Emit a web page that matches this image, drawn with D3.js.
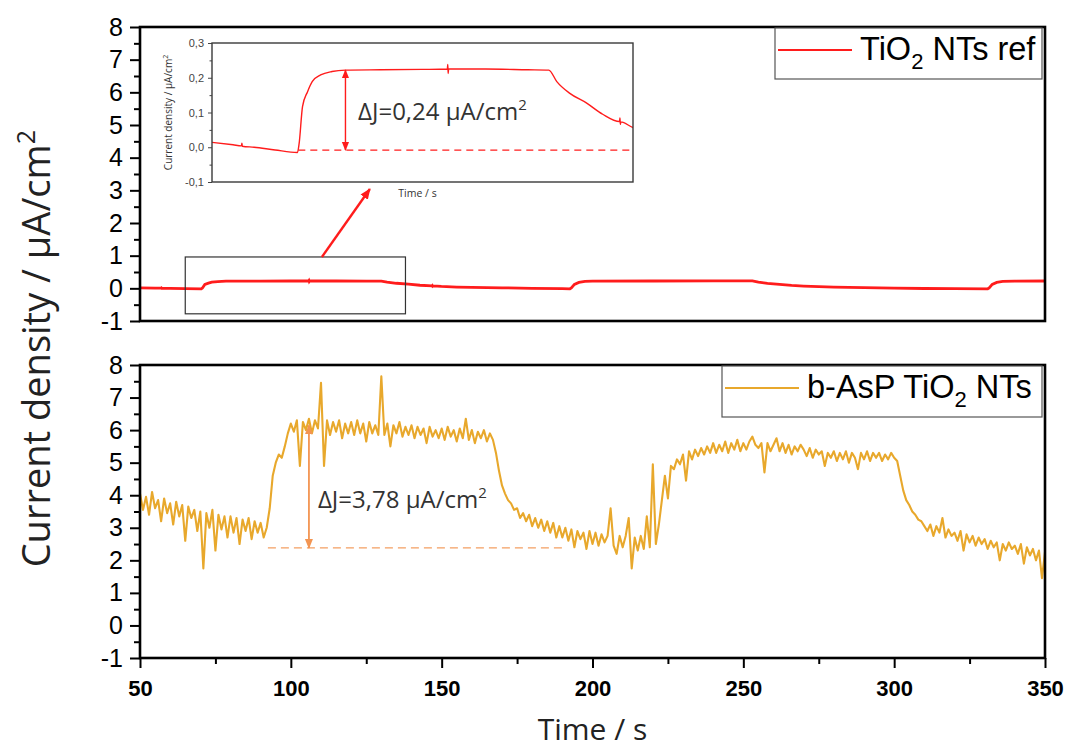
<!DOCTYPE html>
<html><head><meta charset="utf-8">
<script src="https://cdn.jsdelivr.net/npm/d3@7"></script>
<style>body{margin:0;background:#fff}</style>
</head><body>
<svg id="c" width="1070" height="749"></svg>
<script>
// ---------- data ----------
const xTicks = [50, 100, 150, 200, 250, 300, 350];
const xMinorTicks = [75, 125, 175, 225, 275, 325];
const yTicks = [-1, 0, 1, 2, 3, 4, 5, 6, 7, 8];
const yMinorTicks = [-0.5, 0.5, 1.5, 2.5, 3.5, 4.5, 5.5, 6.5, 7.5];
const insetYTicks = [-0.1, 0, 0.1, 0.2, 0.3];
const insetYMinor = [-0.05, 0.05, 0.15, 0.25];

// TiO2 NTs ref : [time s, current density µA/cm²]
const refSeries = [
  [50,0.014],[55,0.007],[57,0.004],[57.1,0.012],[57.2,0.003],[60,0.0],[65,-0.008],[70.3,-0.015],
  [70.7,0.011],[71.5,0.117],[72.7,0.16],[73.8,0.189],[75.8,0.208],[78.5,0.218],[81.7,0.222],
  [90,0.223],[100,0.224],[105.9,0.225],[106,0.238],[106.1,0.212],[106.2,0.225],[115,0.225],
  [125,0.223],[130,0.222],[131.9,0.189],[135,0.155],[139,0.127],[142.8,0.095],[146.8,0.074],
  [146.9,0.084],[147,0.066],[147.1,0.073],[149.9,0.057],[155,0.04],[160,0.03],[170,0.015],
  [180,0.0],[190,-0.012],[192.5,-0.015],[193,0.01],[194,0.12],[195.5,0.18],[197.5,0.21],
  [200,0.22],[220,0.225],[240,0.228],[253,0.226],[255,0.19],[258,0.15],[262,0.12],[266,0.09],
  [270,0.07],[280,0.04],[290,0.02],[300,0.005],[310,-0.005],[320,-0.01],[331,-0.015],
  [331.5,0.01],[332.5,0.12],[334,0.18],[336,0.21],[340,0.22],[350,0.225]
];

// b-AsP TiO2 NTs : one reading per second from t = 50 s to 350 s
const aspStart = 50, aspStep = 1;
const aspValues = [
  4.05,3.55,3.95,3.4,4.1,3.6,3.85,3.2,3.9,3.45,
  3.75,3.1,3.8,3.35,3.7,2.6,3.65,3.3,3.55,2.9,
  3.5,1.75,3.45,3.0,3.55,2.3,3.4,2.95,3.35,2.7,
  3.35,2.85,3.3,2.5,3.25,2.9,3.3,2.65,3.2,2.85,
  3.15,2.7,3.0,3.6,4.6,5.0,5.25,5.15,5.5,5.9,
  6.2,5.95,6.3,4.9,6.25,6.0,6.35,5.9,6.3,6.05,
  7.45,4.9,6.3,5.85,6.25,5.95,6.3,5.75,6.2,5.9,
  6.25,5.85,6.3,5.9,6.2,5.65,6.25,5.9,6.15,5.85,
  7.65,5.85,6.2,5.5,6.15,5.9,6.25,5.8,6.1,5.85,
  6.15,5.75,6.1,5.85,6.05,5.6,6.1,5.8,6.0,5.75,
  6.05,5.7,6.1,5.8,6.0,5.65,6.05,5.75,6.35,5.7,
  6.0,5.6,5.95,5.75,6.0,5.65,5.9,5.7,5.3,4.75,
  4.3,4.05,3.85,3.75,3.55,3.6,3.3,3.45,3.2,3.4,
  3.05,3.3,3.0,3.25,2.9,3.2,2.85,3.15,2.7,3.05,
  2.7,3.0,2.6,2.95,2.4,2.9,2.65,2.85,2.35,2.9,
  2.5,2.85,2.45,2.8,2.55,2.75,3.6,2.45,2.2,2.75,
  2.4,2.75,3.3,1.75,2.7,2.3,2.75,2.35,3.35,2.4,
  4.95,2.5,3.1,3.85,4.6,3.9,4.9,4.8,5.1,4.95,
  5.25,4.45,5.35,5.1,5.4,5.2,5.45,5.25,5.5,5.3,
  5.6,5.3,5.55,5.35,5.65,5.3,5.6,5.4,5.7,5.35,
  5.6,5.4,5.65,5.8,5.55,5.45,5.6,4.7,5.6,5.35,
  5.55,5.75,5.35,5.6,5.3,5.55,5.25,5.5,5.35,5.55,
  5.4,5.2,5.45,5.15,5.4,5.25,5.35,4.9,5.3,5.15,
  5.35,5.05,5.3,5.1,5.35,5.0,5.3,5.15,4.8,5.3,
  5.1,5.35,5.05,5.3,5.15,5.3,5.05,5.25,5.1,5.3,
  5.15,5.05,4.6,4.15,3.85,3.7,3.5,3.4,3.25,3.2,
  3.05,2.9,3.1,2.75,3.05,2.85,3.3,2.7,2.95,2.75,
  2.85,2.6,2.9,2.3,2.8,2.55,2.75,2.45,2.7,2.5,
  2.65,2.35,2.6,2.4,2.55,2.0,2.5,2.3,2.55,2.35,
  2.45,2.2,2.5,1.9,2.4,2.15,2.35,2.0,2.3,1.45,2.25
];

// annotations (data units)
const refDelta = {label: "ΔJ=0,24 µA/cm", t: 81.7, top: 0.222, base: -0.008, baseFrom: 70.5, baseTo: 150, textT: 84.7, textV: 0.078};
const aspDelta = {label: "ΔJ=3,78 µA/cm", t: 106, top: 6.15, base: 2.38, baseFrom: 92.4, baseTo: 191.5, textT: 109, textV: 3.61};
const zoomBox = {t0: 65, t1: 138, v0: -0.78, v1: 0.96};
const zoomArrow = {t0: 110.3, v0: 0.96, t1: 126.2, v1: 3.04};
const insetRange = {t0: 50, t1: 150, v0: -0.1, v1: 0.3};

// ---------- layout ----------
const svg = d3.select("#c");
const L = 140, R = 1045;
const topP = {top: 27, bottom: 321};
const botP = {top: 365, bottom: 658};
const inset = {left: 212, right: 633, top: 43, bottom: 182};

const RED = "#ff1c1c", GOLD = "#e8a82c", ORANGE = "#f39552";
const TICKFONT = "'Liberation Sans', Arial, sans-serif";
const LABFONT = "'Open Sans', 'Noto Sans', sans-serif";

const x = d3.scaleLinear([50, 350], [L, R]);
const yTop = d3.scaleLinear([-1, 8], [topP.bottom, topP.top]);
const yBot = d3.scaleLinear([-1, 8], [botP.bottom, botP.top]);
const xi = d3.scaleLinear([insetRange.t0, insetRange.t1], [inset.left, inset.right]);
const yi = d3.scaleLinear([insetRange.v0, insetRange.v1], [inset.bottom, inset.top]);

const defs = svg.append("defs");
function marker(id, color, size) {
  defs.append("marker").attr("id", id).attr("viewBox", "0 0 10 10")
    .attr("refX", 9).attr("refY", 5).attr("markerUnits", "userSpaceOnUse")
    .attr("markerWidth", size).attr("markerHeight", size).attr("orient", "auto-start-reverse")
    .append("path").attr("d", "M0,1 L10,5 L0,9 Z").attr("fill", color);
}
marker("mRed", RED, 11);
marker("mRedS", RED, 9);
marker("mOr", ORANGE, 10);
defs.append("clipPath").attr("id", "clipTop").append("rect")
  .attr("x", L).attr("y", topP.top).attr("width", R - L).attr("height", topP.bottom - topP.top);
defs.append("clipPath").attr("id", "clipBot").append("rect")
  .attr("x", L).attr("y", botP.top).attr("width", R - L).attr("height", botP.bottom - botP.top);
defs.append("clipPath").attr("id", "clipIn").append("rect")
  .attr("x", inset.left).attr("y", inset.top).attr("width", inset.right - inset.left).attr("height", inset.bottom - inset.top);

// ---------- y axes ----------
function yAxes(scale) {
  const g = svg.append("g").attr("transform", `translate(${L},0)`);
  g.call(d3.axisLeft(scale).tickValues(yTicks).tickSize(10).tickPadding(7).tickFormat(d => String(d)));
  g.selectAll("text").attr("font-family", TICKFONT).attr("font-size", 25).attr("fill", "#000");
  g.selectAll("line").attr("stroke-width", 2);
  g.select(".domain").remove();
  const m = svg.append("g").attr("transform", `translate(${L},0)`);
  m.call(d3.axisLeft(scale).tickValues(yMinorTicks).tickSize(6).tickFormat(""));
  m.selectAll("line").attr("stroke-width", 2);
  m.select(".domain").remove();
}
yAxes(yTop);
yAxes(yBot);

// x axis of the bottom panel
const gx = svg.append("g").attr("transform", `translate(0,${botP.bottom})`);
gx.call(d3.axisBottom(x).tickValues(xTicks).tickSize(10).tickPadding(12).tickFormat(d => String(d)));
gx.selectAll("text").attr("font-family", TICKFONT).attr("font-size", 22).attr("font-weight", "bold").attr("fill", "#000");
gx.selectAll("line").attr("stroke-width", 2);
gx.select(".domain").remove();
const gxm = svg.append("g").attr("transform", `translate(0,${botP.bottom})`);
gxm.call(d3.axisBottom(x).tickValues(xMinorTicks).tickSize(6).tickFormat(""));
gxm.selectAll("line").attr("stroke-width", 2);
gxm.select(".domain").remove();

// ---------- series ----------
const refLine = d3.line().x(d => x(d[0])).y(d => yTop(d[1]));
svg.append("path").datum(refSeries).attr("clip-path", "url(#clipTop)")
  .attr("d", refLine).attr("fill", "none").attr("stroke", RED).attr("stroke-width", 2.8);

const aspSeries = aspValues.map((v, i) => [aspStart + i * aspStep, v]);
const aspLine = d3.line().x(d => x(d[0])).y(d => yBot(d[1]));
svg.append("path").datum(aspSeries).attr("clip-path", "url(#clipBot)")
  .attr("d", aspLine).attr("fill", "none").attr("stroke", GOLD).attr("stroke-width", 2.1)
  .attr("stroke-linejoin", "round");

// panel frames
[topP, botP].forEach(p => {
  svg.append("rect").attr("x", L).attr("y", p.top).attr("width", R - L).attr("height", p.bottom - p.top)
    .attr("fill", "none").attr("stroke", "#000").attr("stroke-width", 2.6);
});

// ---------- zoom box + arrow ----------
svg.append("rect").attr("x", x(zoomBox.t0)).attr("y", yTop(zoomBox.v1))
  .attr("width", x(zoomBox.t1) - x(zoomBox.t0)).attr("height", yTop(zoomBox.v0) - yTop(zoomBox.v1))
  .attr("fill", "none").attr("stroke", "#333").attr("stroke-width", 1.2);
svg.append("line").attr("x1", x(zoomArrow.t0)).attr("y1", yTop(zoomArrow.v0))
  .attr("x2", x(zoomArrow.t1)).attr("y2", yTop(zoomArrow.v1))
  .attr("stroke", RED).attr("stroke-width", 2.4).attr("marker-end", "url(#mRed)");

// ---------- inset ----------
svg.append("rect").attr("x", inset.left).attr("y", inset.top)
  .attr("width", inset.right - inset.left).attr("height", inset.bottom - inset.top)
  .attr("fill", "#fff").attr("stroke", "none");
const insetLine = d3.line().curve(d3.curveMonotoneX).x(d => xi(d[0])).y(d => yi(d[1]));
svg.append("path").datum(refSeries).attr("clip-path", "url(#clipIn)")
  .attr("d", insetLine).attr("fill", "none").attr("stroke", RED).attr("stroke-width", 1.4);
svg.append("line").attr("x1", xi(refDelta.baseFrom)).attr("x2", xi(refDelta.baseTo))
  .attr("y1", yi(refDelta.base)).attr("y2", yi(refDelta.base))
  .attr("stroke", RED).attr("stroke-width", 1.3).attr("stroke-dasharray", "7,5");
svg.append("line").attr("x1", xi(refDelta.t)).attr("x2", xi(refDelta.t))
  .attr("y1", yi(refDelta.top)).attr("y2", yi(refDelta.base))
  .attr("stroke", RED).attr("stroke-width", 1.4)
  .attr("marker-start", "url(#mRedS)").attr("marker-end", "url(#mRedS)");
const dt1 = svg.append("text").attr("x", xi(refDelta.textT)).attr("y", yi(refDelta.textV))
  .attr("font-family", LABFONT).attr("font-size", 24).attr("fill", "#333").text(refDelta.label);
dt1.append("tspan").attr("dy", -10).attr("font-size", 15).text("2");

const gi = svg.append("g").attr("transform", `translate(${inset.left},0)`);
gi.call(d3.axisLeft(yi).tickValues(insetYTicks).tickSize(4).tickPadding(4)
  .tickFormat(d => d3.format(".1f")(d).replace("−", "-").replace(".", ",")));
gi.selectAll("text").attr("font-family", TICKFONT).attr("font-size", 11).attr("fill", "#444");
gi.selectAll("line").attr("stroke", "#444");
gi.select(".domain").remove();
const gim = svg.append("g").attr("transform", `translate(${inset.left},0)`);
gim.call(d3.axisLeft(yi).tickValues(insetYMinor).tickSize(2.5).tickFormat(""));
gim.selectAll("line").attr("stroke", "#444");
gim.select(".domain").remove();
svg.append("rect").attr("x", inset.left).attr("y", inset.top)
  .attr("width", inset.right - inset.left).attr("height", inset.bottom - inset.top)
  .attr("fill", "none").attr("stroke", "#3a3a3a").attr("stroke-width", 1.4);
const iyl = svg.append("text").attr("transform", `translate(${inset.left - 40},${(inset.top + inset.bottom) / 2}) rotate(-90)`)
  .attr("text-anchor", "middle").attr("font-family", LABFONT).attr("font-size", 10).attr("fill", "#333")
  .text("Current density / µA/cm");
iyl.append("tspan").attr("dy", -4).attr("font-size", 7).text("2");
svg.append("text").attr("x", (inset.left + inset.right) / 2 - 5).attr("y", inset.bottom + 15)
  .attr("text-anchor", "middle").attr("font-family", LABFONT).attr("font-size", 10.5).attr("fill", "#333")
  .text("Time / s");

// ---------- bottom annotation ----------
svg.append("line").attr("x1", x(aspDelta.baseFrom)).attr("x2", x(aspDelta.baseTo))
  .attr("y1", yBot(aspDelta.base)).attr("y2", yBot(aspDelta.base))
  .attr("stroke", ORANGE).attr("stroke-width", 1.3).attr("stroke-dasharray", "8,5").attr("opacity", 0.9);
svg.append("line").attr("x1", x(aspDelta.t)).attr("x2", x(aspDelta.t))
  .attr("y1", yBot(aspDelta.top)).attr("y2", yBot(aspDelta.base))
  .attr("stroke", ORANGE).attr("stroke-width", 1.8)
  .attr("marker-start", "url(#mOr)").attr("marker-end", "url(#mOr)");
const dt2 = svg.append("text").attr("x", x(aspDelta.textT)).attr("y", yBot(aspDelta.textV))
  .attr("font-family", LABFONT).attr("font-size", 24).attr("fill", "#333").text(aspDelta.label);
dt2.append("tspan").attr("dy", -10).attr("font-size", 15).text("2");

// ---------- legends ----------
function legend(panel, left, color, pre, post) {
  const top = panel.top + 1, bottom = panel.top + 52;
  svg.append("rect").attr("x", left).attr("y", top).attr("width", R - 3 - left).attr("height", bottom - top)
    .attr("fill", "#fff").attr("stroke", "#555").attr("stroke-width", 1.2);
  const ly = top + 22;
  svg.append("line").attr("x1", left + 3).attr("x2", left + 77).attr("y1", ly).attr("y2", ly)
    .attr("stroke", color).attr("stroke-width", 2);
  const t = svg.append("text").attr("x", left + 85).attr("y", ly + 10)
    .attr("font-family", TICKFONT).attr("font-size", 32.5).attr("fill", "#000").text(pre);
  t.append("tspan").attr("dy", 9).attr("font-size", 22).text("2");
  t.append("tspan").attr("dy", -9).text(post);
}
legend(topP, 775, RED, "TiO", " NTs ref");
legend(botP, 722, GOLD, "b-AsP TiO", " NTs");

// ---------- axis titles ----------
const yl = svg.append("text").attr("transform", `translate(50,130) rotate(-90)`)
  .attr("text-anchor", "end").attr("font-family", LABFONT).attr("font-size", 38).attr("fill", "#222")
  .text("Current density / µA/cm");
yl.append("tspan").attr("dy", -15).attr("font-size", 25).text("2");
svg.append("text").attr("x", (L + R) / 2).attr("y", 740).attr("text-anchor", "middle")
  .attr("font-family", LABFONT).attr("font-size", 30).attr("fill", "#222").text("Time / s");
</script>
</body></html>
